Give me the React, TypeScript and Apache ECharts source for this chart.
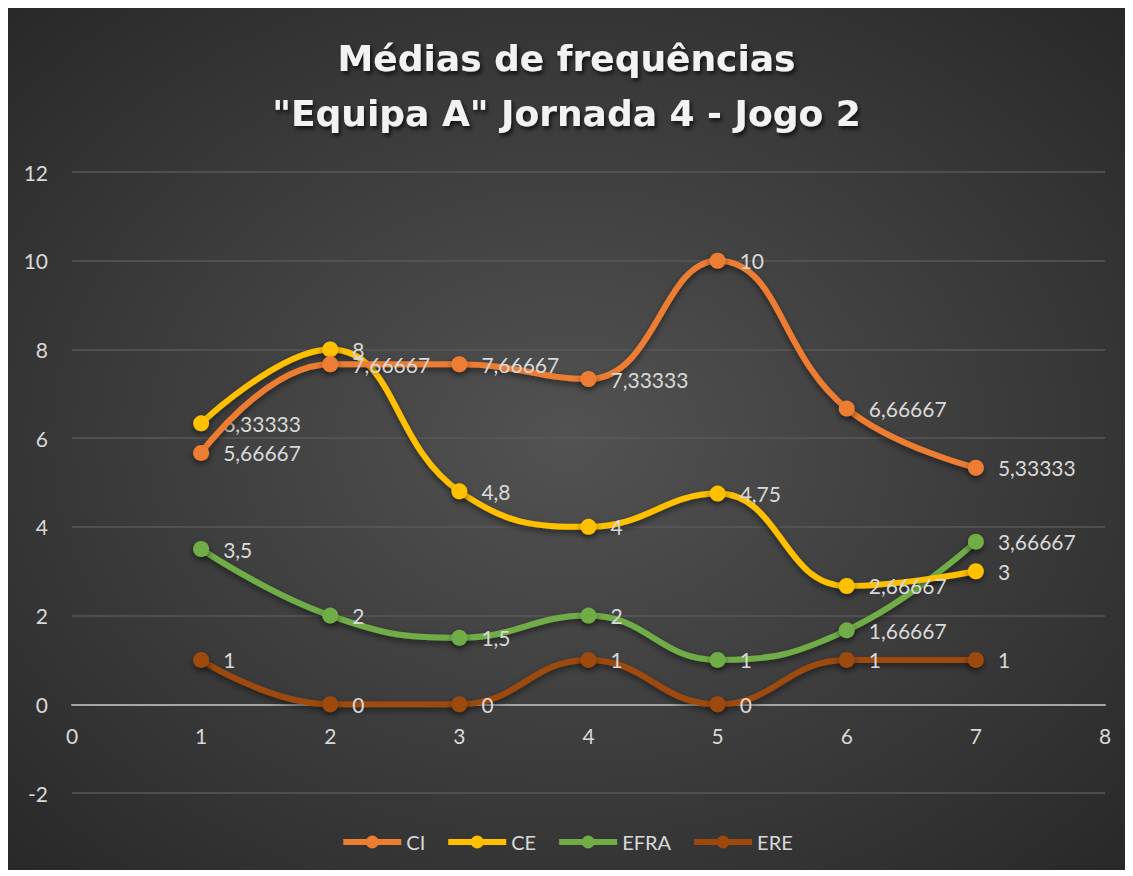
import React, { useEffect, useRef } from "react";
import * as echarts from "echarts";

const xValues = [1, 2, 3, 4, 5, 6, 7];
const ciValues = [5.66667, 7.66667, 7.66667, 7.33333, 10, 6.66667, 5.33333];
const ceValues = [6.33333, 8, 4.8, 4, 4.75, 2.66667, 3];
const efraValues = [3.5, 2, 1.5, 2, 1, 1.66667, 3.66667];
const ereValues = [1, 0, 0, 1, 0, 1, 1];
const seriesNames = ["CI", "CE", "EFRA", "ERE"];
const seriesColors = ["#ED7D31", "#FFC000", "#70AD47", "#9E480E"];

const FONT = "Lato";
const TXT = "#d9d9d9";

export default function App() {
  const ref = useRef<HTMLDivElement>(null);
  useEffect(() => {
    if (!ref.current) return;
    const chart = echarts.init(ref.current, null, { renderer: "svg" });
    const all = [ciValues, ceValues, efraValues, ereValues];
    const series = all.map((vals, i) => ({
      name: seriesNames[i],
      type: "line",
      smooth: 0.45,
      data: xValues.map((x, j) => [x, vals[j]]),
      symbol: "circle",
      symbolSize: 16,
      lineStyle: {
        width: 6,
        color: seriesColors[i],
        shadowColor: "rgba(0,0,0,0.5)",
        shadowBlur: 6,
        shadowOffsetY: 3,
      },
      itemStyle: {
        color: seriesColors[i],
        shadowColor: "rgba(0,0,0,0.5)",
        shadowBlur: 6,
        shadowOffsetY: 3,
      },
      label: {
        show: true,
        position: "right",
        distance: 14,
        color: TXT,
        fontFamily: FONT,
        fontSize: 21,
        formatter: (p: any) => String(p.value[1]).replace(".", ","),
      },
      z: 10 - i,
    }));
    chart.setOption({
      animation: false,
      backgroundColor: {
        type: "radial",
        x: 0.5,
        y: 0.5,
        r: 0.75,
        colorStops: [
          { offset: 0, color: "#525252" },
          { offset: 1, color: "#262626" },
        ],
      },
      title: {
        text: "Médias de frequências\n\"Equipa A\" Jornada 4 - Jogo 2",
        left: "center",
        top: 18,
        textStyle: {
          color: "#f2f2f2",
          fontFamily: "DejaVu Sans",
          fontWeight: "bold",
          fontSize: 36,
          lineHeight: 55,
          textShadowColor: "rgba(0,0,0,0.7)",
          textShadowBlur: 4,
          textShadowOffsetX: 2,
          textShadowOffsetY: 3,
        },
      },
      legend: {
        bottom: 13,
        left: "center",
        itemWidth: 58,
        itemHeight: 16,
        itemGap: 20,
        data: seriesNames,
        lineStyle: { width: 6 },
        textStyle: { color: TXT, fontFamily: FONT, fontSize: 20 },
      },
      grid: { left: 64, right: 20, top: 164, bottom: 77 },
      xAxis: {
        type: "value",
        min: 0,
        max: 8,
        interval: 1,
        offset: -88.7,
        axisLine: { show: true, onZero: false, lineStyle: { color: "#a6a6a6", width: 2 } },
        axisTick: { show: false },
        splitLine: { show: false },
        axisLabel: { color: TXT, fontFamily: FONT, fontSize: 21, margin: 21 },
      },
      yAxis: {
        type: "value",
        min: -2,
        max: 12,
        interval: 2,
        axisLine: { show: false },
        axisTick: { show: false },
        splitLine: { lineStyle: { color: "#595959", width: 1.5 } },
        axisLabel: { color: TXT, fontFamily: FONT, fontSize: 21, margin: 24 },
      },
      series,
    });
    return () => chart.dispose();
  }, []);
  return <div ref={ref} style={{ width: 1117, height: 862 }} />;
}
